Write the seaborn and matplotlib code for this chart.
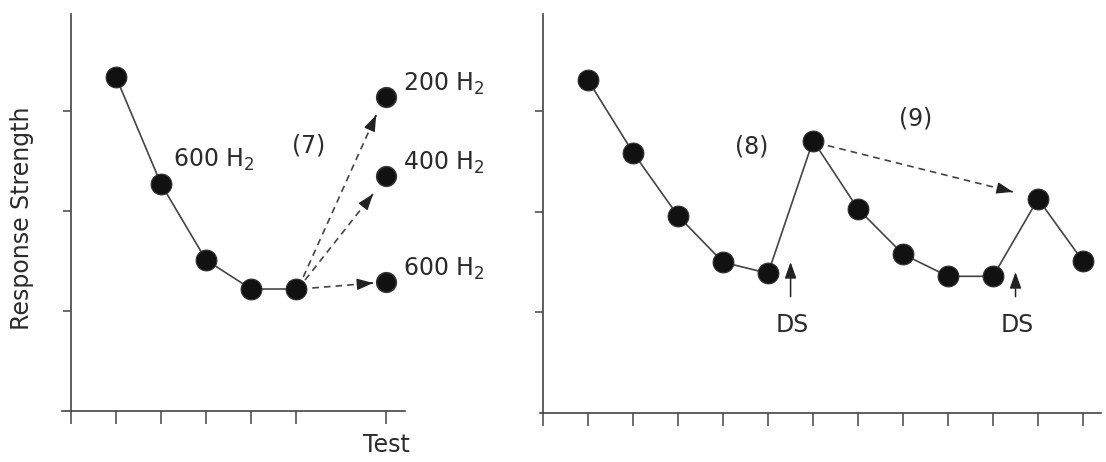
import numpy as np
import pandas as pd
import matplotlib
matplotlib.use('Agg')
import matplotlib.pyplot as plt
import seaborn as sns

# left panel: training trials with 600 Hz, then test tones
train_x = [1, 2, 3, 4, 5]
train_y = [3.34, 2.27, 1.51, 1.22, 1.22]
test_x = [7, 7, 7]
test_y = [3.14, 2.35, 1.29]
test_labels = ['200 H$_2$', '400 H$_2$', '600 H$_2$']

# right panel: habituation with dishabituating stimulus (DS)
right_x = list(range(1, 13))
right_y = [3.31, 2.59, 1.96, 1.50, 1.39, 2.71, 2.03, 1.58, 1.36, 1.36, 2.13, 1.51]
ds_x = [5.5, 10.5]

INK = '#2b2b2b'
LINE = '#444444'

sns.set_style('ticks')
plt.rcParams['font.family'] = ['DejaVu Sans']
plt.rcParams['text.color'] = INK

fig = plt.figure(figsize=(11.06, 4.62), dpi=100)
ax1 = fig.add_axes([62 / 1106, 51 / 462, 343 / 1106, 397 / 462])
ax2 = fig.add_axes([540 / 1106, 49 / 462, 561 / 1106, 399 / 462])


def style_axis(ax, xlim, xticks):
    ax.set_xlim(*xlim)
    ax.set_ylim(0, 3.97)
    for s in ['top', 'right']:
        ax.spines[s].set_visible(False)
    ax.spines['left'].set_position(('data', 0))
    for s in ['left', 'bottom']:
        ax.spines[s].set_color(LINE)
        ax.spines[s].set_linewidth(1.2)
    ax.set_xticks(xticks)
    ax.set_yticks([1, 2, 3])
    ax.set_yticklabels([])
    ax.tick_params(axis='x', direction='out', length=9.5, width=1.1, color=LINE, pad=6)
    ax.tick_params(axis='y', direction='out', length=6, width=1.1, color=LINE)
    ax.set_xlabel('')
    ax.set_ylabel('')


def dashed_arrow(ax, start, end):
    ax.plot([start[0], end[0]], [start[1], end[1]], ls=(0, (4, 3)), color=LINE, lw=1.2)
    d = np.array(end) - np.array(start)
    back = np.array(end) - d * 0.02
    ax.annotate('', xy=end, xytext=tuple(back),
                arrowprops=dict(arrowstyle='-|>,head_length=0.7,head_width=0.25',
                                color='#222222', lw=1.0, mutation_scale=14))


# ---- left panel
df_train = pd.DataFrame({'trial': train_x, 'strength': train_y})
sns.lineplot(data=df_train, x='trial', y='strength', ax=ax1, color=LINE, lw=1.2,
             marker='o', markersize=15, markerfacecolor='#111111',
             markeredgecolor='#333333', zorder=3)
df_test = pd.DataFrame({'trial': test_x, 'strength': test_y})
sns.scatterplot(data=df_test, x='trial', y='strength', ax=ax1, s=200,
                color='#111111', edgecolor='#333333', zorder=3)
style_axis(ax1, (-0.2, 7.42), [0, 1, 2, 3, 4, 5, 7])
ax1.set_xticklabels(['', '', '', '', '', '', 'Test'], fontsize=17, color=INK)

dashed_arrow(ax1, (5.16, 1.34), (6.78, 2.96))
dashed_arrow(ax1, (5.2, 1.31), (6.71, 2.17))
dashed_arrow(ax1, (5.36, 1.23), (6.71, 1.28))

ax1.text(2.27, 2.44, '600 H$_2$', fontsize=17, va='baseline', ha='left')
ax1.text(5.27, 2.66, '(7)', fontsize=17, va='center', ha='center')
for ty, lab in zip(test_y, test_labels):
    ax1.text(7.38, ty + 0.06, lab, fontsize=17, va='baseline', ha='left', clip_on=False)

fig.text(22 / 1106, 1 - 218 / 462, 'Response Strength', rotation=90,
         ha='center', va='center', fontsize=17, color=INK)

# ---- right panel
df_right = pd.DataFrame({'trial': right_x, 'strength': right_y})
sns.lineplot(data=df_right, x='trial', y='strength', ax=ax2, color=LINE, lw=1.2,
             marker='o', markersize=15, markerfacecolor='#111111',
             markeredgecolor='#333333', zorder=3, clip_on=False)
style_axis(ax2, (-0.07, 12.4), list(range(0, 13)))
ax2.set_xticklabels([])

for dx, tip in zip(ds_x, [1.53, 1.43]):
    ax2.annotate('', xy=(dx, tip), xytext=(dx, 1.13),
                 arrowprops=dict(arrowstyle='-|>,head_length=0.7,head_width=0.25',
                                 color='#222222', lw=1.1, mutation_scale=14))
    ax2.text(dx + 0.04, 0.88, 'DS', fontsize=17, ha='center', va='center')

dashed_arrow(ax2, (6.33, 2.66), (10.44, 2.20))
ax2.text(4.64, 2.65, '(8)', fontsize=17, ha='center', va='center')
ax2.text(8.29, 2.93, '(9)', fontsize=17, ha='center', va='center')

fig.savefig('out.png', dpi=100)
